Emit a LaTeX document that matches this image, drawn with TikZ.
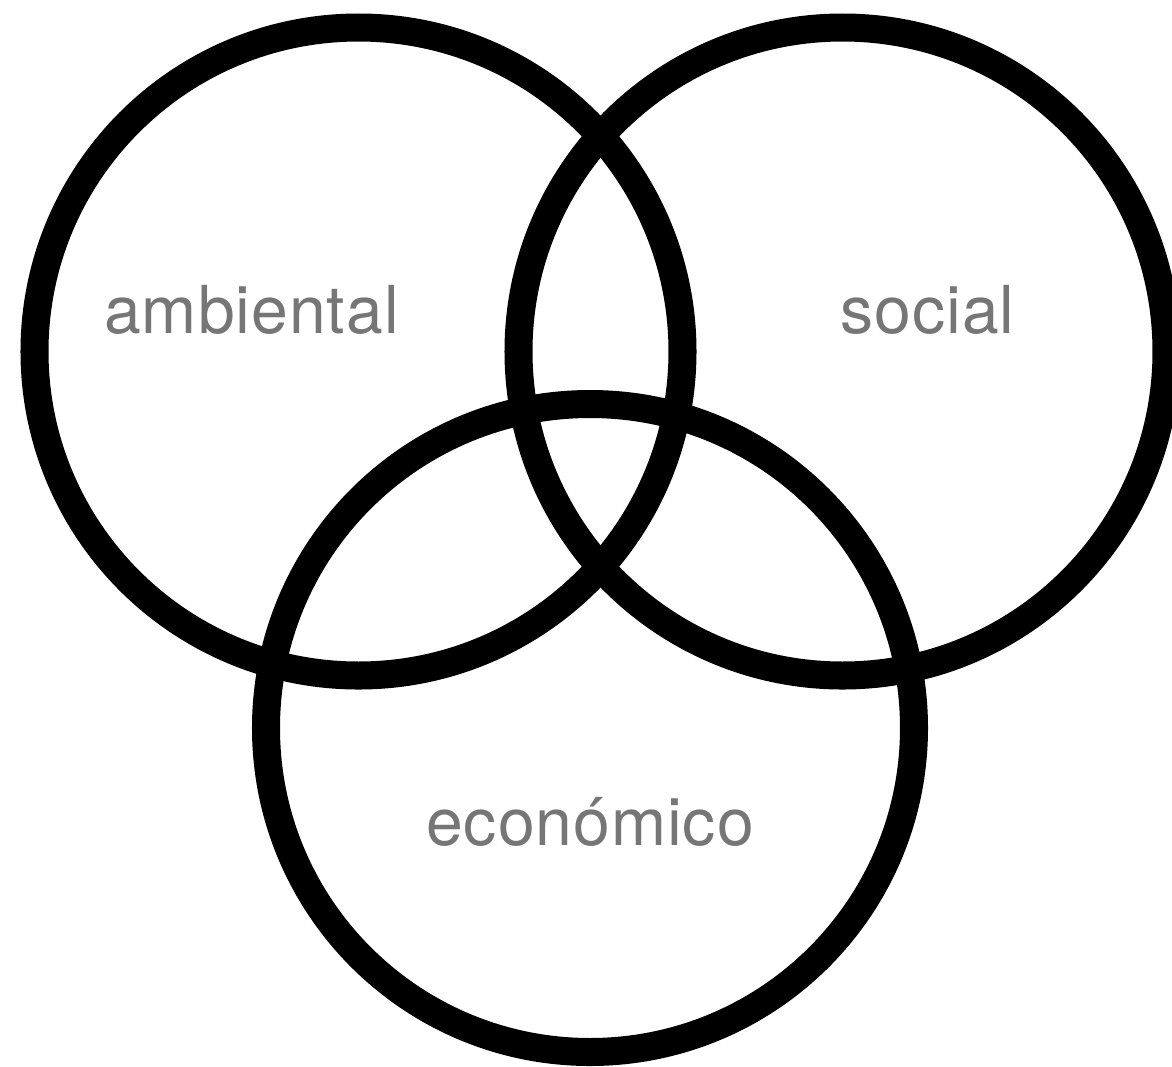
\documentclass[tikz,border=0pt]{standalone}
\usepackage{fontspec}
\setmainfont{TeX Gyre Heros}
\newfontfamily\tagfont[LetterSpace=1.5]{TeX Gyre Heros}
\usepackage{xcolor}
\usepackage{tikz}
\usetikzlibrary{positioning}
\definecolor{tagtext}{HTML}{767676}

\begin{document}
\begin{tikzpicture}[x=0.01cm, y=-0.01cm,
    ring/.style={draw=black, line width=0.28cm},
    tag/.style={anchor=base, inner sep=0pt, text=tagtext, font=\tagfont\fontsize{18.8}{22}\selectfont}]

    \useasboundingbox (0,0) rectangle (1172,1066);

    % the three circles
    \coordinate (amb) at (358.5,351.5);
    \coordinate (soc) at (842.5,351.5);
    \coordinate (eco) at (590,728);
    \draw [ring] (amb) circle [radius=324];
    \draw [ring] (soc) circle [radius=324];
    \draw [ring] (eco) circle [radius=324];

    % labels
    \node [tag] (ambtext) at (251.5,333) {ambiental};
    \node [tag] (soctext) at (927.5,333) {social};
    \node [tag] (ecotext) at (590,845) {económico};
\end{tikzpicture}
\end{document}
